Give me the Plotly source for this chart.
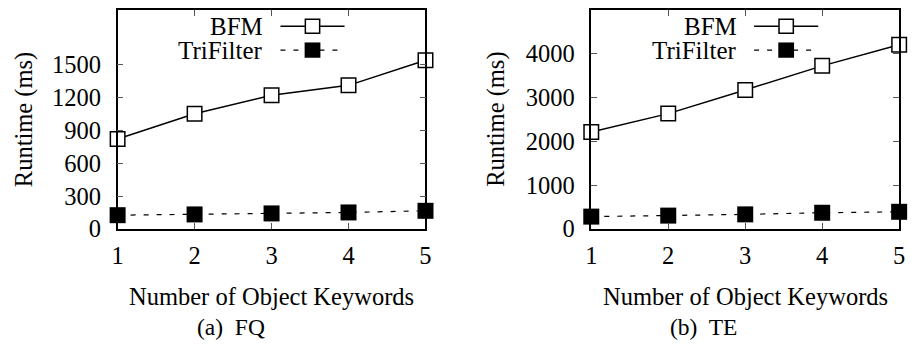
import plotly.graph_objects as go

# The page body keeps its default 8px margin, so the figure is made
# smaller than the 917x357 window and every reference pixel position
# is shifted by that margin.
PAGE_W, PAGE_H = 917, 357
BODY_MARGIN = 8
W, H = PAGE_W - BODY_MARGIN, PAGE_H - 2 * BODY_MARGIN

keywords = [1, 2, 3, 4, 5]
fq_bfm = [820, 1050, 1220, 1310, 1540]
fq_tri = [125, 132, 141, 150, 165]
te_bfm = [2210, 2630, 3170, 3720, 4200]
te_tri = [280, 303, 331, 368, 390]

fq_yticks = [0, 300, 600, 900, 1200, 1500]
te_yticks = [0, 1000, 2000, 3000, 4000]
series_names = ["BFM", "TriFilter"]
x_title = "Number of Object Keywords"
y_title = "Runtime (ms)"
captions = ["(a)  FQ", "(b)  TE"]

FONT = "'Liberation Serif', 'DejaVu Serif', 'Times New Roman', serif"
FS = 24.5
DASH = "5px,8px"


def px(x):
    return (x - BODY_MARGIN) / W


def py(y):
    return 1 - (y - BODY_MARGIN) / H


fig = go.Figure()

panels = [
    dict(bfm=fq_bfm, tri=fq_tri, xa="x", ya="y"),
    dict(bfm=te_bfm, tri=te_tri, xa="x2", ya="y2"),
]
for p in panels:
    fig.add_trace(go.Scatter(
        x=keywords, y=p["bfm"], xaxis=p["xa"], yaxis=p["ya"], mode="lines+markers",
        name=series_names[0], showlegend=False, cliponaxis=False,
        line=dict(color="black", width=1.5),
        marker=dict(symbol="square", size=14.5, color="white",
                    line=dict(color="black", width=1.5)),
    ))
    fig.add_trace(go.Scatter(
        x=keywords, y=p["tri"], xaxis=p["xa"], yaxis=p["ya"], mode="lines+markers",
        name=series_names[1], showlegend=False, cliponaxis=False,
        line=dict(color="black", width=1.2, dash=DASH),
        marker=dict(symbol="square", size=16, color="black",
                    line=dict(color="black", width=0)),
    ))

axis_common = dict(
    showline=True, linecolor="black", linewidth=1.5, mirror="ticks",
    ticks="inside", ticklen=6, tickwidth=1, tickcolor="#555",
    showgrid=False, zeroline=False,
    tickfont=dict(family=FONT, size=FS, color="black"),
)

boxes = [(113, 425), (593, 905)]
ytop, ybot = 8.8, 238

fig.update_layout(
    width=W, height=H, margin=dict(l=0, r=0, t=0, b=0),
    paper_bgcolor="white", plot_bgcolor="white",
    showlegend=False,
    font=dict(family=FONT),
    xaxis=dict(domain=[px(boxes[0][0]), px(boxes[0][1])], range=[1, 5],
               tickvals=keywords, anchor="y", ticklabelstandoff=4, **axis_common),
    yaxis=dict(domain=[py(ybot), py(ytop)], range=[0, 2000], tickvals=fq_yticks,
               anchor="x", ticklabelstandoff=10, **axis_common),
    xaxis2=dict(domain=[px(boxes[1][0]), px(boxes[1][1])], range=[1, 5],
                tickvals=keywords, anchor="y2", ticklabelstandoff=4, **axis_common),
    yaxis2=dict(domain=[py(ybot), py(ytop)], range=[0, 5000], tickvals=te_yticks,
                anchor="x2", ticklabelstandoff=10, **axis_common),
)

annotations = []
shapes = []
ylabel_x = [18, 497]
caption_x = [228, 707]
legend_text_right = [262, 742.7]
legend_line = [(278, 343), (758, 823)]
legend_rows = [26, 51]

for i in range(2):
    x0, x1 = boxes[i]
    annotations.append(dict(
        text=x_title, x=px((x0 + x1) / 2), y=py(309), xref="paper", yref="paper",
        xanchor="center", yanchor="middle", showarrow=False,
        font=dict(family=FONT, size=FS, color="black")))
    annotations.append(dict(
        text=y_title, x=px(ylabel_x[i]), y=py((ytop + ybot) / 2), xref="paper", yref="paper",
        xanchor="center", yanchor="middle", showarrow=False, textangle=-90,
        font=dict(family=FONT, size=FS, color="black")))
    annotations.append(dict(
        text=captions[i], x=px(caption_x[i]), y=py(341), xref="paper", yref="paper",
        xanchor="center", yanchor="middle", showarrow=False,
        font=dict(family=FONT, size=FS - 1, color="black")))
    # custom legend: text then sample
    lx0, lx1 = legend_line[i]
    cx = (lx0 + lx1) / 2
    for j, name in enumerate(series_names):
        yy = legend_rows[j]
        annotations.append(dict(
            text=name, x=px(legend_text_right[i]), y=py(yy), xref="paper", yref="paper",
            xanchor="right", yanchor="middle", showarrow=False,
            font=dict(family=FONT, size=FS + 0.5, color="black")))
        shapes.append(dict(
            type="line", xref="paper", yref="paper",
            x0=px(lx0), x1=px(lx1), y0=py(yy), y1=py(yy),
            line=dict(color="black", width=1.5 if j == 0 else 1.2,
                      dash="solid" if j == 0 else DASH)))
        half = 7.25 if j == 0 else 8
        shapes.append(dict(
            type="rect", xref="paper", yref="paper",
            x0=px(cx - half), x1=px(cx + half), y0=py(yy - half), y1=py(yy + half),
            fillcolor="white" if j == 0 else "black",
            line=dict(color="black", width=1.5 if j == 0 else 0)))

fig.update_layout(annotations=annotations, shapes=shapes)

fig.write_html("out.html", config={"displayModeBar": False})
